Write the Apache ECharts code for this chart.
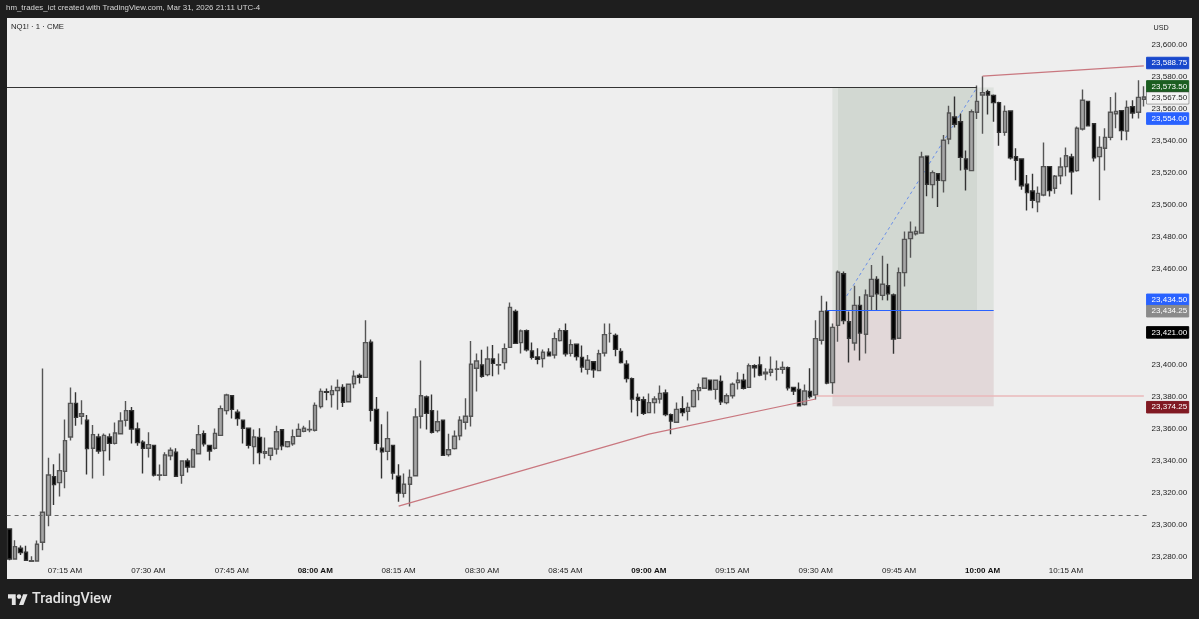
<!DOCTYPE html>
<html>
<head>
<meta charset="utf-8">
<title>NQ1! 1 CME</title>
<script src="https://cdn.jsdelivr.net/npm/echarts@6/dist/echarts.min.js"></script>
<style>
  html, body { margin: 0; padding: 0; background: #1e1e1e; }
  #chart { width: 1199px; height: 619px; }
</style>
</head>
<body>
<div id="chart"></div>
<script>
// 1 minute bars, 07:05 to 10:29
const opens = [23297.5,23278.75,23285.5,23283,23277.25,23277.5,23289.25,23306,23330.25,23326.5,23333.5,23355,23376,23368,23365.5,23348,23355,23346.5,23355,23351,23357,23365.5,23371.5,23360,23351.75,23348,23349.75,23331,23331,23343.25,23345.5,23331,23340,23336.25,23344.5,23357,23349.75,23348,23356,23371.5,23380.75,23370.5,23365.5,23360.5,23349,23354.75,23344.75,23343.5,23347.5,23359.5,23349,23350.75,23355.5,23358.5,23359.5,23359.25,23374,23383.25,23381.5,23384,23386,23377,23388.25,23393.5,23392.25,23414.25,23372.25,23348,23346,23349.75,23330.5,23319.75,23325.5,23330.75,23368,23380,23371.5,23359,23365.5,23344,23347.75,23355.75,23364.25,23368,23398,23400,23394,23403.75,23400,23401.5,23411,23433.5,23414,23421.5,23408.75,23405,23404,23408,23406.25,23415.25,23421.5,23407.25,23413,23404.75,23397.25,23402,23396.5,23407.5,23419.75,23418.5,23408.5,23400.5,23391.5,23379.75,23378.25,23370.25,23376.5,23378.75,23382.5,23369,23364.25,23372.75,23371,23374,23384,23385.5,23390.5,23384.75,23389.75,23376.5,23380.75,23389,23390.5,23386,23399.5,23400,23394.5,23395.5,23397.25,23397.25,23398.25,23386,23384.75,23375.25,23383.5,23381.25,23415.5,23433.75,23389,23424.75,23457,23427,23413.75,23437.25,23419.25,23443,23453.5,23443.5,23449.5,23443.75,23416.75,23457.75,23479,23482,23482.5,23530.5,23512.75,23519.5,23515.25,23541.25,23555,23552,23528.75,23521.5,23558,23568.75,23570.75,23568.5,23564,23545.5,23558.75,23530.25,23528.75,23513,23508.75,23502,23506.25,23524,23510.5,23518.25,23524,23530,23521.5,23547.5,23564.75,23550.75,23530.25,23535.5,23542.25,23557,23559,23546.25,23561.5,23558,23566];
const highs = [23298,23290.5,23287.25,23287,23280.5,23290.25,23397.75,23342,23338,23344.75,23366,23386,23383,23378,23368.75,23362.5,23357,23357.25,23357.25,23364,23370.5,23377.5,23373.75,23364,23353,23358,23350,23337.75,23345.5,23348.5,23348,23340.5,23341.5,23347.75,23362.5,23359,23350,23360.25,23374.75,23382,23381.25,23372.25,23365.5,23360.5,23359.75,23360.5,23354.75,23348.5,23362,23359.75,23352,23359.75,23363.5,23362,23365.5,23376.5,23385.25,23385.25,23387.25,23391,23388,23388.5,23396.5,23394.75,23428,23416,23380,23363,23371,23349.75,23338,23332.25,23334.75,23373,23402.75,23381,23381.5,23371.5,23366,23357,23359,23368,23379.25,23415,23407.25,23409.5,23411.5,23412.5,23407.25,23413.5,23439,23434.75,23422.25,23422.25,23414,23410.5,23409.75,23410.5,23420.25,23423,23426,23416,23413,23412.25,23406.25,23402,23409.5,23426,23426,23419.75,23410.5,23403,23392.25,23382.25,23380.25,23382.25,23380.5,23387.25,23384.75,23369.75,23376.5,23380.5,23376.5,23384.75,23388.5,23392.25,23391,23390.5,23393.5,23382.25,23389,23395.5,23394.5,23401,23400.5,23405.25,23398,23405.25,23402.75,23402.25,23399,23386,23389,23387.75,23398,23428,23443.25,23439.75,23426,23459,23458.5,23433.5,23449.5,23443,23447.25,23462.5,23455.5,23468.25,23463.25,23444.75,23461,23483.5,23489.75,23486.5,23533.25,23531,23521.5,23519.75,23543.75,23562,23567.75,23557.25,23534,23559.75,23574.75,23580.5,23572,23569,23564.5,23562.25,23559,23535.5,23528.75,23518.75,23519.5,23511.5,23539,23524.25,23518.75,23529.75,23536,23532,23549,23572.25,23565,23551,23543,23548,23567.5,23570.25,23559.25,23565.25,23565.5,23578,23574.25];
const lows = [23278,23278.5,23281.25,23277.75,23277.25,23277.25,23284.25,23299.25,23312.5,23317.75,23323,23352.75,23362,23362.75,23331.5,23329,23344.5,23330.75,23340.25,23350.25,23357,23361.5,23351,23349.5,23332.25,23342.25,23330.25,23327.75,23331,23340.5,23330.25,23325.75,23332.75,23336,23344,23349,23340.25,23347.25,23356,23369,23366.5,23362,23351,23347.75,23338,23338,23341.5,23340.5,23344,23346.75,23348.5,23349.5,23355.25,23358,23358,23358.5,23372.75,23378,23373.5,23372,23373.75,23377,23385.5,23388.5,23392.25,23364.75,23346.75,23329,23340.5,23328.5,23314.5,23317.25,23311.5,23330.75,23360.25,23359.75,23357.25,23357.75,23343.5,23342.75,23347.25,23353,23359.75,23361.5,23383.5,23392,23393,23393,23394,23397.25,23411,23413.5,23407.25,23408.5,23403.5,23400.5,23398.5,23405.25,23404,23414.75,23405.25,23405.25,23402.75,23395.25,23394,23392,23396.25,23405.25,23414,23405.5,23401,23389,23370.25,23368,23368.75,23370.25,23369.75,23376,23368,23356.75,23364.25,23368,23365.25,23373.5,23378,23385.25,23384,23378.5,23375,23375.5,23379,23384.75,23384.75,23385.75,23392.25,23393,23390.5,23393,23390.25,23394.5,23384,23381.25,23374,23374.75,23379,23378.5,23412.75,23388,23382,23414.5,23425.5,23401.5,23409,23402.75,23407.25,23433.75,23433.75,23440.5,23440.25,23407,23416.75,23449,23467,23481,23482.5,23505.5,23504.25,23498.75,23507.75,23538,23548.5,23521.5,23509,23521.5,23553.75,23544.5,23556.5,23552,23537,23543.25,23528.5,23515.5,23509.5,23496.5,23498,23495.5,23505.5,23505.25,23507,23513,23518,23506.5,23520.75,23546.5,23549,23527.25,23503,23521.5,23540.5,23548,23540.5,23540.5,23554,23554,23561.5];
const closes = [23278.75,23286.5,23282.75,23278,23277.75,23288,23308,23331.25,23325.25,23334,23352.75,23376,23367.25,23369.5,23347.75,23356.5,23346.25,23356,23351,23357.5,23365,23371.5,23360,23351.5,23348,23350.25,23331.25,23331.25,23343.75,23346.75,23330.5,23340,23336.25,23347,23356.5,23350.75,23346.25,23357.25,23372.75,23381.25,23372.25,23366.5,23360.5,23349.75,23355,23345.25,23345.75,23348,23358.25,23349.5,23352,23355.25,23359.75,23360.5,23359.75,23374.75,23383.5,23383,23384,23386,23376.75,23388,23393,23392.25,23414,23371.75,23351,23345.75,23354,23332.5,23320,23325.5,23329.75,23367.5,23380.75,23369.75,23358,23364.5,23343.5,23347,23355.5,23365.5,23368,23400.5,23402.5,23393,23403.75,23401,23400.25,23410.25,23436,23413.5,23421.25,23409.5,23404.75,23403.5,23408,23405.75,23416.5,23421.5,23407,23412.75,23405.25,23398.75,23403,23397,23407,23419,23419.75,23409.75,23401.5,23391.5,23378.75,23378,23369.75,23376.5,23378.75,23382.25,23369,23365,23372.25,23370.25,23373.5,23384,23385.75,23391.75,23384.5,23390.5,23377,23380.75,23388,23390.5,23385.5,23399.5,23398.25,23393.75,23395.5,23397.25,23397.5,23398.5,23385.75,23383.75,23374.5,23383.75,23380.25,23416.5,23433.5,23388.75,23423.5,23458,23427.75,23416.75,23437.25,23420,23443.75,23453.5,23444.5,23450.5,23444.5,23416.25,23457.75,23478.5,23483,23483.5,23530,23513,23520.25,23515.5,23540.5,23557.5,23550.5,23529.75,23522.5,23558.25,23564.75,23570.25,23568.75,23564,23545.5,23558.5,23529.5,23528,23512,23507.75,23503,23507.25,23524,23509,23518,23523.75,23530.75,23520.75,23548,23565.5,23549.5,23529.5,23536,23542.25,23558,23558.5,23546.5,23561,23557.5,23567.25,23567.5];

// category names, one per minute
const times = [];
for (let m = 7 * 60 + 5; m <= 10 * 60 + 29; m++) {
  const hh = String(Math.floor(m / 60)).padStart(2, '0');
  const mm = String(m % 60).padStart(2, '0');
  times.push(hh + ':' + mm);
}
const timeTicks = ['07:15','07:30','07:45','08:00','08:15','08:30','08:45','09:00','09:15','09:30','09:45','10:00','10:15'];
const boldTicks = ['08:00','09:00','10:00'];
const priceTicks = [23280,23300,23320,23340,23360,23380,23400,23420,23440,23460,23480,23500,23520,23540,23560,23580,23600];

// price tags on the axis
const tagPrices = [23588.75,23573.5,23567.5,23554,23434.5,23434.25,23421,23374.25];
const tagBack = ['#1848cc','#1b5e20','#f4f4f4','#2962ff','#2962ff','#8a8a8a','#000000','#801922'];
const tagText = ['#fff','#fff','#222','#fff','#fff','#fff','#fff','#fff'];
const tagEdge = ['#1848cc','#1b5e20','#444444','#2962ff','#2962ff','#8a8a8a','#000000','#801922'];
const tagShift = [0,-1,1,0,-10,1,1,1];

// drawings
const trendLow = [['08:15',23311.75],['09:00',23356.75],['09:30',23378.75]];
const trendHigh = [['10:00',23580.5],['10:29',23587]];
const tradeLine = [['09:35',23440],['09:59',23573.5]];
const entryPrice = 23434.25;
const targetPrice = 23573.5;
const stopPrice = 23374.25;
const pinkLevel = 23381;
const dashedLevel = 23306;

const fontName = '"Liberation Sans", Arial, sans-serif';
const myChart = echarts.init(document.getElementById('chart'));

const fmt = v => v.toLocaleString('en-US', { minimumFractionDigits: 2, maximumFractionDigits: 2 });

myChart.setOption({
  animation: false,
  backgroundColor: '#1e1e1e',
  graphic: [
    { type: 'rect', z: -1, silent: true, shape: { x: 7, y: 18, width: 1185, height: 561 }, style: { fill: '#eeeeee' } },
    { type: 'text', x: 6, y: 4, style: { text: 'hm_trades_ict created with TradingView.com, Mar 31, 2026 21:11 UTC-4', fill: '#d6d6d6', font: '7.9px ' + fontName } },
    { type: 'text', x: 11, y: 23, style: { text: 'NQ1! · 1 · CME', fill: '#222', font: '7.7px ' + fontName } },
    { type: 'text', x: 1153.5, y: 25, style: { text: 'USD', fill: '#222', font: '7.2px ' + fontName } },
    {
      type: 'group', x: 8, y: 591.8, scaleX: 0.55, scaleY: 0.6,
      children: [
        { type: 'polygon', shape: { points: [[0,4],[14,4],[14,22],[7,22],[7,11],[0,11]] }, style: { fill: '#e4e4e4' } },
        { type: 'polygon', shape: { points: [[20,22],[27.5,4],[35.5,4],[28,22]] }, style: { fill: '#e4e4e4' } },
        { type: 'circle', shape: { cx: 20, cy: 8, r: 4 }, style: { fill: '#e4e4e4' } }
      ]
    },
    { type: 'text', x: 32, y: 592, style: { text: 'TradingView', fill: '#e4e4e4', font: '500 14.3px Roboto, ' + fontName } }
  ],
  grid: { left: 6.6, top: 18, width: 1140, height: 545 },
  xAxis: {
    type: 'category',
    data: times,
    boundaryGap: true,
    axisLine: { show: false },
    axisTick: { show: false },
    splitLine: { show: false },
    axisLabel: {
      interval: (i, name) => timeTicks.includes(name),
      margin: 4,
      fontSize: 8,
      fontFamily: fontName,
      color: '#222',
      formatter: v => boldTicks.includes(v) ? '{b|' + v + ' AM}' : v + ' AM',
      rich: { b: { fontSize: 8, fontWeight: 'bold', color: '#111', fontFamily: fontName } }
    }
  },
  yAxis: {
    type: 'value',
    position: 'right',
    min: 23276.25,
    max: 23616.875,
    scale: true,
    axisLine: { show: false },
    axisTick: { show: false },
    splitLine: { show: false },
    axisLabel: {
      customValues: priceTicks,
      margin: 5,
      fontSize: 8,
      fontFamily: fontName,
      color: '#222',
      formatter: v => fmt(v)
    }
  },
  series: [
    {
      type: 'candlestick',
      z: 4,
      barWidth: 4,
      data: times.map((t, i) => [opens[i], closes[i], lows[i], highs[i]]),
      itemStyle: {
        color: '#a6a6a6',
        color0: '#000000',
        borderColor: '#555555',
        borderColor0: '#333333',
        borderColorDoji: '#555555',
        borderWidth: 1.4
      }
    },
    {
      // long position box and its levels
      type: 'line',
      z: 1,
      data: [],
      symbol: 'none',
      silent: true,
      markArea: {
        silent: true,
        data: [
          [{ xAxis: '09:33', yAxis: targetPrice, itemStyle: { color: 'rgba(76,120,76,0.095)' } }, { xAxis: '10:02', yAxis: entryPrice }],
          [{ xAxis: '09:34', yAxis: targetPrice, itemStyle: { color: 'rgba(60,90,60,0.07)' } }, { xAxis: '09:59', yAxis: entryPrice }],
          [{ xAxis: '09:33', yAxis: entryPrice, itemStyle: { color: 'rgba(150,70,80,0.13)' } }, { xAxis: '10:02', yAxis: stopPrice }]
        ]
      }
    },
    {
      type: 'line',
      z: 2,
      data: [],
      symbol: 'none',
      silent: true,
      markLine: {
        silent: true,
        symbol: 'none',
        label: { show: false },
        data: [
          [{ xAxis: '09:32', yAxis: entryPrice, lineStyle: { color: '#2962ff', width: 1, type: 'solid' } }, { xAxis: '10:02', yAxis: entryPrice }],
          [{ xAxis: '09:30', yAxis: pinkLevel, lineStyle: { color: '#eab8ba', width: 1.5, type: 'solid' } }, { xAxis: '10:29', yAxis: pinkLevel }],
          { yAxis: dashedLevel, lineStyle: { color: '#666', width: 1, type: [4, 4] } },
          [{ x: 7, yAxis: targetPrice, lineStyle: { color: '#333', width: 1, type: 'solid' } }, { xAxis: '09:59', yAxis: targetPrice }]
        ]
      }
    },
    {
      type: 'line', z: 3, data: tradeLine, symbol: 'none', silent: true,
      lineStyle: { color: '#6a8fe8', width: 1, type: [3, 3] }
    },
    {
      type: 'line', z: 5, data: trendLow, symbol: 'none', silent: true,
      lineStyle: { color: '#c9777f', width: 1.2 }
    },
    {
      type: 'line', z: 5, data: trendHigh, symbol: 'none', silent: true,
      lineStyle: { color: '#c9777f', width: 1.2 }
    },
    {
      // price tags sit to the right of the plot
      type: 'line',
      z: 6,
      data: [],
      symbol: 'none',
      silent: true,
      markLine: {
        silent: true,
        symbol: 'none',
        lineStyle: { width: 0, color: 'transparent' },
        data: tagPrices.map((p, i) => ({
          yAxis: p,
          label: {
            show: true,
            opacity: 1,
            position: 'end',
            distance: 0,
            offset: [0, tagShift[i]],
            formatter: fmt(p),
            fontSize: 8,
            fontFamily: fontName,
            color: tagText[i],
            backgroundColor: tagBack[i],
            borderColor: tagEdge[i],
            borderWidth: 0.5,
            padding: [2, 1.5, 1.5, 5]
          }
        }))
      }
    }
  ]
});
window.addEventListener('resize', function () { myChart.resize(); });
</script>
</body>
</html>
